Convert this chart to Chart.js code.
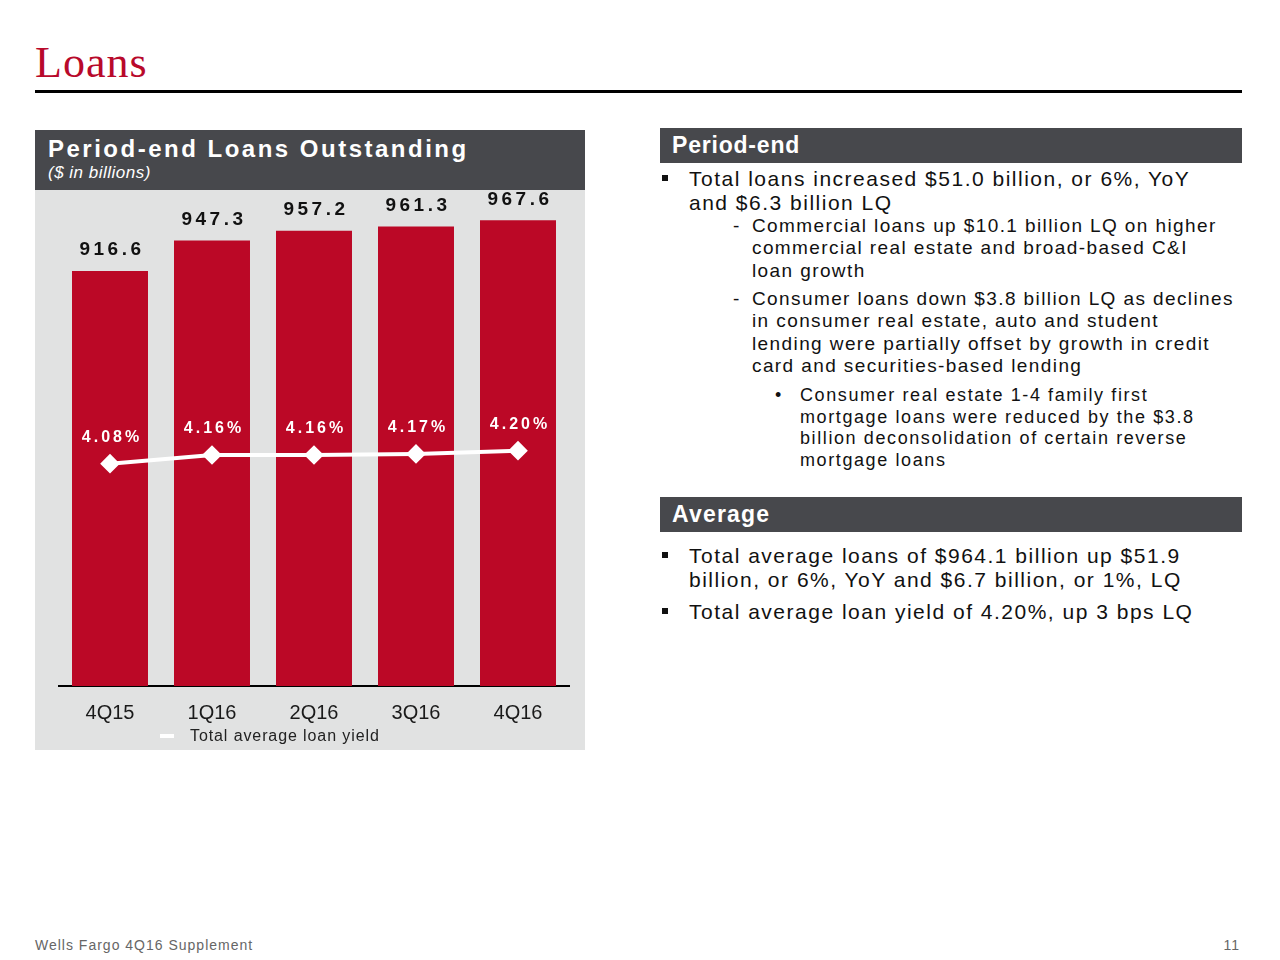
<!DOCTYPE html>
<html lang="en">
<head>
    <meta charset="UTF-8">
    <title>Loans</title>
    <style>
        body {
            margin: 0;
            width: 1280px;
            height: 960px;
            background: #ffffff;
            position: relative;
            font-family: "Liberation Sans", Arial, sans-serif;
            color: #111;
            overflow: hidden;
        }
        .abs { position: absolute; white-space: nowrap; }
        .title {
            left: 35px; top: 36px;
            font-family: "Liberation Serif", serif;
            font-size: 44px; line-height: 54px;
            color: #b8092b; letter-spacing: 1px;
        }
        .rule { left: 35px; top: 90px; width: 1207px; height: 3px; background: #000; }
        .panel-head { background: #47484c; color: #fff; }
        .panel-body { background: #e1e2e2; }
        .hd {
            font-weight: bold; color: #fff;
        }
        .l1 { font-size: 21px; line-height: 24px; letter-spacing: 1.5px; }
        .l2 { font-size: 19px; line-height: 22.3px; letter-spacing: 1.4px; }
        .l3 { font-size: 18px; line-height: 21.7px; letter-spacing: 1.6px; }
        .sq { position: absolute; width: 6px; height: 6px; background: #111; }
        .legend-mark { left: 160px; top: 734px; width: 14px; height: 4px; background: #fff; }
    </style>
</head>
<body>

<div class="abs title">Loans</div>
<div class="abs rule"></div>

<!-- left panel -->
<div class="abs panel-head" style="left:35px; top:130px; width:550px; height:60px;"></div>
<div class="abs hd" style="left:48px; top:134px; font-size:24px; line-height:30px; letter-spacing:2.5px;">Period-end Loans Outstanding</div>
<div class="abs" style="left:48px; top:162px; font-size:17px; line-height:22px; font-style:italic; color:#fff; letter-spacing:0.5px;">($ in billions)</div>
<div class="abs panel-body" style="left:35px; top:190px; width:550px; height:560px;"></div>
<div class="abs" style="left:35px; top:190px; width:550px; height:560px;">
    <canvas id="loansChart"></canvas>
</div>
<div class="abs legend-mark"></div>
<div class="abs" style="left:190px; top:726px; font-size:16px; line-height:20px; letter-spacing:0.9px; color:#222;">Total average loan yield</div>

<!-- right panel -->
<div class="abs panel-head" style="left:660px; top:128px; width:582px; height:35px;"></div>
<div class="abs hd" style="left:672px; top:131px; font-size:23px; line-height:28px; letter-spacing:0.8px;">Period-end</div>

<div class="abs l1" style="left:689px; top:167px;">
    <span class="sq" style="left:-27px; top:8px;"></span>
    Total loans increased $51.0 billion, or 6%, YoY<br>and $6.3 billion LQ
</div>
<div class="abs l2" style="left:752px; top:215px;">
    <span style="position:absolute; left:-19px;">-</span>
    Commercial loans up $10.1 billion LQ on higher<br>commercial real estate and broad-based C&amp;I<br>loan growth
</div>
<div class="abs l2" style="left:752px; top:288px;">
    <span style="position:absolute; left:-19px;">-</span>
    Consumer loans down $3.8 billion LQ as declines<br>in consumer real estate, auto and student<br>lending were partially offset by growth in credit<br>card and securities-based lending
</div>
<div class="abs l3" style="left:800px; top:385px;">
    <span style="position:absolute; left:-25px;">&bull;</span>
    Consumer real estate 1-4 family first<br>mortgage loans were reduced by the $3.8<br>billion deconsolidation of certain reverse<br>mortgage loans
</div>

<div class="abs panel-head" style="left:660px; top:497px; width:582px; height:35px;"></div>
<div class="abs hd" style="left:672px; top:500px; font-size:23px; line-height:28px; letter-spacing:1.2px;">Average</div>

<div class="abs l1" style="left:689px; top:544px;">
    <span class="sq" style="left:-27px; top:8px;"></span>
    Total average loans of $964.1 billion up $51.9<br>billion, or 6%, YoY and $6.7 billion, or 1%, LQ
</div>
<div class="abs l1" style="left:689px; top:600px;">
    <span class="sq" style="left:-27px; top:8px;"></span>
    Total average loan yield of 4.20%, up 3 bps LQ
</div>

<!-- footer -->
<div class="abs" style="left:35px; top:936px; font-size:14px; line-height:18px; letter-spacing:1px; color:#666;">Wells Fargo 4Q16 Supplement</div>
<div class="abs" style="right:40px; top:936px; font-size:14px; line-height:18px; letter-spacing:1px; color:#666;">11</div>

<script src="https://cdn.jsdelivr.net/npm/chart.js"></script>
<script>
    // data
    const quarters = ['4Q15', '1Q16', '2Q16', '3Q16', '4Q16'];
    const loanValues = [916.6, 947.3, 957.2, 961.3, 967.6];   // $ in billions
    const yieldValues = [4.08, 4.16, 4.16, 4.17, 4.20];       // total average loan yield, %

    // draws the numbers above the bars and above the yield points
    const valueLabels = {
        id: 'valueLabels',
        afterDatasetsDraw(chart) {
            const ctx = chart.ctx;
            ctx.save();
            ctx.textAlign = 'center';
            ctx.textBaseline = 'middle';

            // dataset 1 = bars
            ctx.font = 'bold 19px "Liberation Sans", Arial, sans-serif';
            ctx.fillStyle = '#111';
            ctx.letterSpacing = '3.5px';
            chart.getDatasetMeta(1).data.forEach((bar, i) => {
                ctx.fillText(loanValues[i].toFixed(1), bar.x + 2, bar.y - 21);
            });

            // dataset 0 = yield line
            ctx.font = 'bold 16px "Liberation Sans", Arial, sans-serif';
            ctx.fillStyle = '#fff';
            ctx.letterSpacing = '3px';
            chart.getDatasetMeta(0).data.forEach((pt, i) => {
                ctx.fillText(yieldValues[i].toFixed(2) + '%', pt.x + 2, pt.y - 26);
            });
            ctx.restore();
        }
    };

    const ctx = document.getElementById('loansChart').getContext('2d');
    new Chart(ctx, {
        type: 'bar',
        data: {
            labels: quarters,
            datasets: [
                {
                    type: 'line',
                    label: 'Total average loan yield',
                    data: yieldValues,
                    yAxisID: 'y2',
                    borderColor: '#ffffff',
                    borderWidth: 4,
                    pointStyle: 'rectRot',
                    pointRadius: 7,
                    pointBackgroundColor: '#ffffff',
                    pointBorderColor: '#ffffff',
                    order: 0
                },
                {
                    type: 'bar',
                    label: 'Period-end loans',
                    data: loanValues,
                    yAxisID: 'y',
                    backgroundColor: '#bb0826',
                    categoryPercentage: 1,
                    barPercentage: 0.745,
                    order: 1
                }
            ]
        },
        options: {
            responsive: true,
            maintainAspectRatio: false,
            animation: false,
            layout: { padding: { left: 24, right: 16, top: 10, bottom: 10 } },
            plugins: {
                legend: { display: false },
                tooltip: { enabled: false }
            },
            scales: {
                x: {
                    grid: { display: false, drawTicks: false },
                    border: { display: true, color: '#000', width: 2 },
                    ticks: {
                        color: '#1a1a1a',
                        padding: 15,
                        font: { family: '"Liberation Sans", Arial, sans-serif', size: 20 }
                    }
                },
                y: { display: false, min: 500, max: 987 },
                y2: { display: false, min: 2.023, max: 6.51 }
            }
        },
        plugins: [valueLabels]
    });
</script>

</body>
</html>
